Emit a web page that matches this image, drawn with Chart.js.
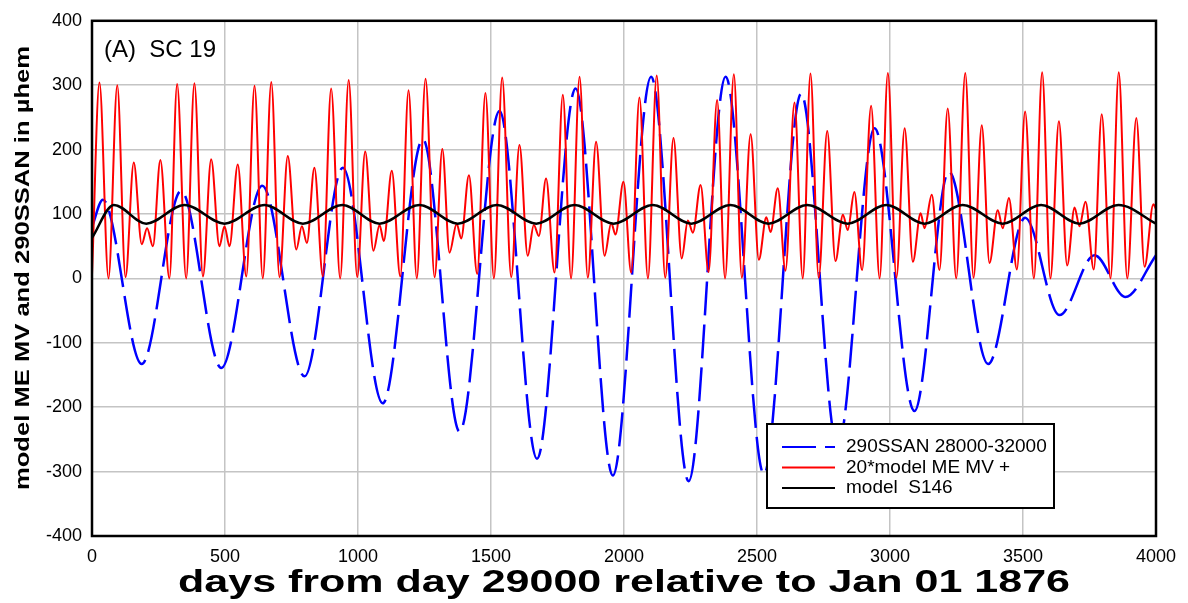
<!DOCTYPE html>
<html>
<head>
<meta charset="utf-8">
<script src="https://cdn.jsdelivr.net/npm/chart.js@4/dist/chart.umd.min.js"></script>
<style>
  html, body { margin: 0; padding: 0; background: #fff; }
  #wrap { width: 1188px; height: 603px; position: relative; }
</style>
</head>
<body>
<div id="wrap"><canvas id="chart"></canvas></div>
<script>
// ===== DATA =====
// 290SSAN 28000-32000 (turning points of the dashed curve)
const ssanDays = [0, 41, 187, 335, 486, 640, 799, 943, 1093, 1244, 1382, 1532, 1673, 1818, 1958, 2102,
    2243, 2382, 2526, 2666, 2803, 2942, 3092, 3221, 3369, 3508, 3637, 3769, 3885, 4000];
const ssanValues = [80, 122, -133, 136, -139, 144, -152, 172, -194, 216, -238, 260, -280, 295, -306, 313,
    -315, 313, -304, 287, -262, 233, -206, 166, -133, 94, -57, 36, -29, 36];

// 20*model ME MV +
const meDays = [0, 28, 62, 95, 126, 157, 187, 207, 229, 257, 291, 320, 354, 385, 417, 448, 479, 498, 517, 548,
    580, 611, 642, 674, 705, 736, 768, 789, 808, 836, 868, 899, 933, 965, 997, 1027, 1058, 1081, 1097, 1127,
    1159, 1190, 1221, 1254, 1288, 1317, 1344, 1371, 1388, 1417, 1448, 1479, 1511, 1542, 1576, 1607, 1638, 1661, 1680, 1707,
    1739, 1770, 1801, 1833, 1864, 1895, 1927, 1952, 1968, 1998, 2027, 2058, 2090, 2123, 2155, 2186, 2217, 2240, 2259, 2288,
    2318, 2350, 2380, 2413, 2443, 2476, 2507, 2535, 2551, 2578, 2607, 2641, 2672, 2701, 2732, 2764, 2795, 2823, 2841, 2866,
    2895, 2929, 2961, 2992, 3024, 3055, 3086, 3115, 3130, 3157, 3186, 3217, 3249, 3283, 3314, 3345, 3374, 3405, 3424, 3447,
    3477, 3508, 3541, 3572, 3603, 3635, 3666, 3694, 3712, 3735, 3766, 3796, 3829, 3860, 3892, 3926, 3957, 3990, 4000];
const meValues = [5, 304, 0, 300, 2, 180, 53, 78, 50, 184, 0, 302, 0, 303, 3, 185, 50, 81, 50, 177,
    3, 299, 0, 305, 2, 190, 45, 81, 55, 172, 3, 295, 0, 308, 2, 197, 43, 83, 58, 167,
    3, 292, 0, 310, 2, 201, 40, 85, 62, 160, 7, 288, 0, 312, 2, 207, 35, 83, 66, 155,
    9, 285, 0, 313, 1, 212, 35, 86, 68, 150, 9, 281, 0, 315, 1, 218, 31, 90, 71, 145,
    10, 277, 0, 317, 1, 224, 29, 95, 72, 140, 12, 273, 0, 318, 1, 229, 27, 99, 75, 134,
    13, 268, 0, 319, 1, 233, 26, 101, 78, 130, 13, 264, 0, 319, 1, 238, 24, 106, 78, 125,
    14, 259, 0, 320, 0, 244, 20, 110, 81, 119, 14, 255, 0, 320, 0, 249, 18, 115, 108];

// model S146
const s146Days = [0, 82, 204, 348, 498, 648, 793, 941, 1081, 1231, 1375, 1522, 1670, 1814, 1961,
    2108, 2253, 2400, 2543, 2689, 2841, 2986, 3130, 3273, 3424, 3568, 3712, 3859, 4000];
const s146Values = [63, 114, 85, 114, 85, 114, 85, 114, 85, 114, 85, 114, 85, 114, 85,
    114, 85, 114, 85, 114, 85, 114, 85, 114, 85, 114, 85, 114, 85];

const xTicks = { min: 0, max: 4000, step: 500 };
const yTicks = { min: -400, max: 400, step: 100 };

const xTitle = 'days from day 29000 relative to Jan 01 1876';
const yTitle = 'model ME MV and 290SSAN in \u00b5hem';

const FONT = "Arial, 'Liberation Sans', sans-serif";

function toPoints(xs, ys) {
    return xs.map((x, i) => ({ x: x, y: ys[i] }));
}

// draw text stretched along its own direction to a given length
function drawStretched(ctx, text, cx, cy, length, angle) {
    const w = ctx.measureText(text).width;
    ctx.save();
    ctx.translate(cx, cy);
    ctx.rotate(angle);
    ctx.scale(length / w, 1);
    ctx.textAlign = 'center';
    ctx.textBaseline = 'middle';
    ctx.fillText(text, 0, 0);
    ctx.restore();
}

// ===== PLUGINS =====
// black frame round the plot area, panel tag and axis titles
const framePlugin = {
    id: 'frame',
    afterDatasetsDraw(chart) {
        const a = chart.chartArea;
        const ctx = chart.ctx;
        ctx.save();
        ctx.strokeStyle = '#000';
        ctx.lineWidth = 2.5;
        ctx.strokeRect(a.left, a.top, a.right - a.left, a.bottom - a.top);
        ctx.fillStyle = '#000';
        ctx.font = '24px ' + FONT;
        ctx.textBaseline = 'middle';
        ctx.fillText('(A)  SC 19', a.left + 12, a.top + 30);

        ctx.font = 'bold 31px ' + FONT;
        drawStretched(ctx, xTitle, (a.left + a.right) / 2, 583, 892, 0);
        ctx.font = 'bold 20px ' + FONT;
        drawStretched(ctx, yTitle, 23, 268, 444, -Math.PI / 2);
        ctx.restore();
    }
};

// boxed legend inside the lower right of the plot
const boxLegendPlugin = {
    id: 'boxLegend',
    afterDraw(chart) {
        const ctx = chart.ctx;
        const box = { x: 767, y: 424, w: 287, h: 84 };
        const rows = [2, 1, 0]; // dataset indexes, top to bottom
        ctx.save();
        ctx.fillStyle = '#fff';
        ctx.fillRect(box.x, box.y, box.w, box.h);
        ctx.strokeStyle = '#000';
        ctx.lineWidth = 2;
        ctx.strokeRect(box.x, box.y, box.w, box.h);
        ctx.font = '19px ' + FONT;
        ctx.textBaseline = 'middle';
        rows.forEach((di, i) => {
            const ds = chart.data.datasets[di];
            const y = box.y + 23 + i * 20.5;
            ctx.beginPath();
            ctx.strokeStyle = ds.borderColor;
            ctx.lineWidth = 2;
            ctx.setLineDash(ds.borderDash || []);
            ctx.moveTo(box.x + 15, y);
            ctx.lineTo(box.x + 68, y);
            ctx.stroke();
            ctx.setLineDash([]);
            ctx.fillStyle = '#000';
            ctx.fillText(ds.label, box.x + 79, y);
        });
        ctx.restore();
    }
};

// ===== CHART =====
const ctx = document.getElementById('chart');
new Chart(ctx, {
    type: 'line',
    data: {
        datasets: [
            {
                label: 'model  S146',
                data: toPoints(s146Days, s146Values),
                borderColor: '#000000',
                borderWidth: 2.5,
                order: 0
            },
            {
                label: '20*model ME MV +',
                data: toPoints(meDays, meValues),
                borderColor: '#ff0000',
                borderWidth: 2,
                order: 1
            },
            {
                label: '290SSAN 28000-32000',
                data: toPoints(ssanDays, ssanValues),
                borderColor: '#0000ff',
                borderWidth: 2.5,
                borderDash: [34, 9],
                order: 2
            }
        ]
    },
    options: {
        responsive: true,
        maintainAspectRatio: false,
        animation: false,
        elements: {
            point: { radius: 0, hoverRadius: 0 },
            line: { cubicInterpolationMode: 'monotone', fill: false }
        },
        layout: { padding: { top: 16, right: 32, left: 0, bottom: 0 } },
        plugins: {
            legend: { display: false },
            tooltip: { enabled: false }
        },
        scales: {
            x: {
                type: 'linear',
                min: xTicks.min,
                max: xTicks.max,
                border: { display: false },
                grid: { color: '#c4c4c4', lineWidth: 1.5, drawTicks: false },
                ticks: {
                    stepSize: xTicks.step,
                    padding: 10,
                    color: '#000',
                    font: { family: FONT, size: 18 },
                    callback: v => String(v)
                },
                afterFit(scale) { scale.height = 67; }
            },
            y: {
                type: 'linear',
                min: yTicks.min,
                max: yTicks.max,
                border: { display: false },
                grid: { color: '#c4c4c4', lineWidth: 1.5, drawTicks: false },
                ticks: {
                    stepSize: yTicks.step,
                    padding: 10,
                    color: '#000',
                    font: { family: FONT, size: 18 },
                    callback: v => String(v)
                },
                afterFit(scale) { scale.width = 92; }
            }
        }
    },
    plugins: [framePlugin, boxLegendPlugin]
});
</script>
</body>
</html>
